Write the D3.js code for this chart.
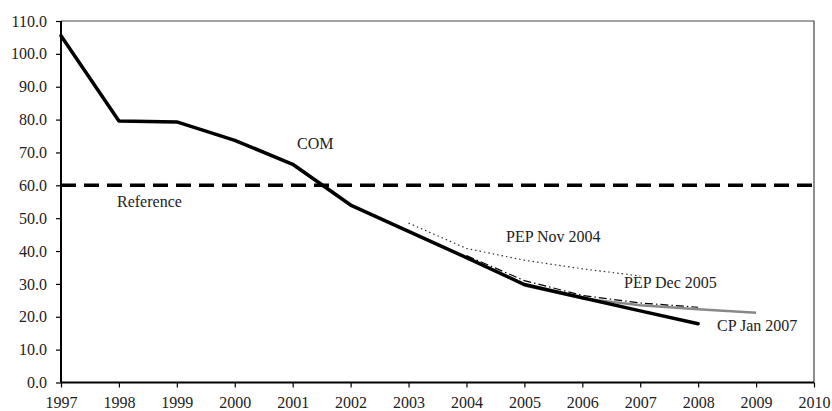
<!DOCTYPE html>
<html><head><meta charset="utf-8">
<script src="https://cdn.jsdelivr.net/npm/d3@7"></script>
<style>body{margin:0;background:#fff}svg{display:block}</style>
</head><body><svg id="c" width="832" height="411"></svg>
<script>
const years = [1997,1998,1999,2000,2001,2002,2003,2004,2005,2006,2007,2008,2009,2010];
const yTicks = [0,10,20,30,40,50,60,70,80,90,100,110];
const comYears = [1997,1998,1999,2000,2001,2002,2003,2004,2005,2006,2007,2008];
const comValues = [105.5,79.6,79.3,73.7,66.4,54.0,46.0,38.0,29.8,25.8,21.8,17.9];
const pepNov2004Years = [2003,2004,2005,2006,2007];
const pepNov2004Values = [48.5,40.8,37.2,34.6,32.4];
const pepDec2005Years = [2004,2005,2006,2007,2008];
const pepDec2005Values = [38.6,31.0,26.5,24.2,22.9];
const cpJan2007Years = [2005,2006,2007,2008,2009];
const cpJan2007Values = [29.5,25.6,23.5,22.3,21.2];
const referenceValue = 60;

const FONT = "'Times New Roman', 'Liberation Serif', 'DejaVu Serif', serif";
const svg = d3.select("#c");
const m = {l:61, r:814, t:21, b:382.5};
const x = d3.scaleLinear().domain([1997,2010]).range([m.l,m.r]);
const y = d3.scaleLinear().domain([0,110]).range([m.b,m.t]);

svg.append("path").attr("d",`M${m.l},${m.t}H${m.r}V${m.b}`).attr("fill","none").attr("stroke","#444").attr("stroke-width",1.2);

const xAxis = svg.append("g").attr("transform",`translate(0,${m.b})`)
  .call(d3.axisBottom(x).tickValues(years).tickFormat(d3.format("d")).tickSize(5).tickPadding(9));
const yAxis = svg.append("g").attr("transform",`translate(${m.l},0)`)
  .call(d3.axisLeft(y).tickValues(yTicks).tickFormat(d3.format(".1f")).tickSize(5).tickPadding(9));
[xAxis,yAxis].forEach(g=>{
  g.attr("font-family",FONT).attr("font-size",16);
  g.select(".domain").attr("stroke","#000").attr("stroke-width",2);
  g.selectAll(".tick line").attr("stroke","#000").attr("stroke-width",1.2);
  g.selectAll("text").attr("fill","#222").style("font-family",FONT).style("font-size","16px");
});
xAxis.select(".domain").attr("d",`M${m.l},0H${m.r}`);
yAxis.select(".domain").attr("d",`M0,${m.t}V${m.b}`);

svg.append("line").attr("x1",x(1997)).attr("x2",x(2010)).attr("y1",y(referenceValue)).attr("y2",y(referenceValue))
  .attr("stroke","#000").attr("stroke-width",3.5).attr("stroke-dasharray","15,8");

const line = d3.line().x(d=>x(d[0])).y(d=>y(d[1]));
const zip = (a,b)=>a.map((v,i)=>[v,b[i]]);

svg.append("path").datum(zip(pepNov2004Years,pepNov2004Values)).attr("d",line)
  .attr("fill","none").attr("stroke","#333").attr("stroke-width",1.2).attr("stroke-dasharray","1.5,3");
svg.append("path").datum(zip(cpJan2007Years,cpJan2007Values)).attr("d",line)
  .attr("fill","none").attr("stroke","#888").attr("stroke-width",2.5);
svg.append("path").datum(zip(comYears,comValues)).attr("d",line)
  .attr("fill","none").attr("stroke","#000").attr("stroke-width",3.5).attr("stroke-linejoin","round").attr("stroke-linecap","round");
svg.append("path").datum(zip(pepDec2005Years,pepDec2005Values)).attr("d",line)
  .attr("fill","none").attr("stroke","#000").attr("stroke-width",1.2).attr("stroke-dasharray","8,3,1.5,3");

const labels = [["COM",297,149],["Reference",117,207],["PEP Nov 2004",506,242],["PEP Dec 2005",624,288],["CP Jan 2007",717,331]];
svg.selectAll("text.lbl").data(labels).join("text").attr("class","lbl")
  .attr("x",d=>d[1]).attr("y",d=>d[2]).style("font-family",FONT).style("font-size","16px").attr("fill","#222").text(d=>d[0]);
</script></body></html>
